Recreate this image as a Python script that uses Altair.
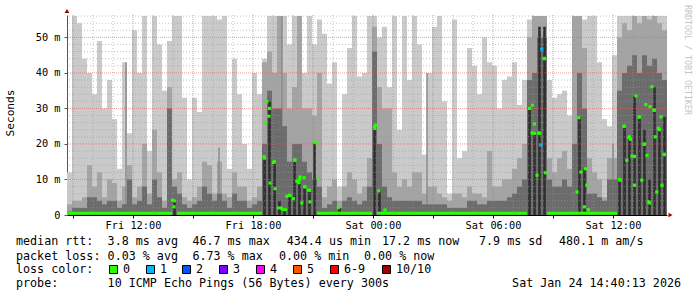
import altair as alt
import pandas as pd

# ---------------- data ----------------
START_H = 8.7      # Fri 08:42, hours since Fri 00:00
STEP_H = 0.25      # one column = 15 minutes
SPAN_H = 30.0
Y_TOP = 56.3       # ms

# outer smoke (lightest band top), ms
smoke_max = [12, 56, 54, 44, 40, 34, 49, 30, 38, 27, 13, 43, 23, 52, 40, 56, 18, 56, 48, 35,
             49, 56, 56, 33, 10, 33, 29, 56, 56, 56, 55, 56, 13, 44, 34, 20, 13, 40, 34, 44,
             56, 56, 56, 56, 48, 56, 56, 40, 56, 48, 55, 51, 37, 43, 8, 34, 47, 56, 39, 40,
             56, 56, 50, 53, 36, 56, 24, 56, 38, 56, 48, 17, 40, 53, 56, 32, 6, 55, 16, 18,
             47, 42, 34, 50, 43, 42, 30, 38, 39, 43, 31, 38, 55, 56, 56, 56, 38, 33, 34, 35,
             28, 56, 56, 55, 56, 56, 43, 27, 25, 45, 56, 56, 56, 56, 56, 56, 56, 56, 56, 56]
# second band top
smoke_mid = [3, 4, 4, 5, 14, 8, 12, 5, 10, 9, 4, 8, 14, 5, 8, 20, 6, 24, 12, 4,
             36, 10, 12, 5, 4, 5, 8, 15, 14, 6, 15, 6, 5, 12, 8, 8, 4, 5, 8, 43,
             46, 40, 56, 40, 30, 36, 56, 30, 30, 28, 40, 5, 8, 10, 4, 8, 12, 10, 6, 8,
             16, 53, 36, 30, 30, 12, 8, 10, 8, 12, 12, 6, 8, 8, 6, 5, 4, 6, 6, 5,
             8, 6, 6, 5, 18, 8, 8, 10, 10, 13, 16, 20, 50, 56, 56, 56, 16, 12, 16, 18,
             13, 56, 56, 47, 16, 12, 10, 5, 16, 16, 50, 54, 52, 56, 54, 56, 55, 56, 54, 52]
# third band top
smoke_dark = [1, 2, 2, 2, 5, 5, 4, 3, 4, 4, 2, 3, 10, 3, 4, 8, 3, 10, 5, 2,
              30, 8, 6, 3, 2, 3, 4, 8, 6, 4, 6, 4, 2, 6, 4, 4, 2, 3, 4, 20,
              35, 30, 30, 25, 15, 20, 20, 15, 12, 10, 8, 2, 3, 4, 2, 4, 5, 4, 3, 4,
              8, 46, 20, 8, 5, 4, 4, 4, 4, 4, 4, 3, 3, 3, 3, 3, 2, 2, 2, 2,
              4, 4, 3, 3, 4, 4, 4, 4, 5, 6, 8, 10, 38, 40, 50, 50, 10, 8, 8, 10,
              8, 20, 40, 30, 6, 6, 5, 4, 10, 10, 35, 40, 42, 45, 40, 45, 42, 44, 40, 38]
# innermost (near-black) band top
smoke_core = [0, 0, 0, 0, 0, 0, 0, 0, 0, 0, 0, 0, 0, 0, 0, 0, 0, 0, 0, 0,
              0, 4.5, 0, 0, 0, 0, 0, 0, 0, 0, 0, 0, 0, 0, 0, 0, 0, 0, 0, 16,
              32, 15, 4, 2, 6, 15.5, 10, 8, 7, 20.5, 0, 0, 0, 0, 2, 0, 0, 0, 0, 0,
              0, 25, 7, 0, 0, 0, 0, 0, 0, 0, 0, 0, 0, 0, 0, 0, 0, 0, 0, 0,
              0, 0, 0, 0, 0, 0, 0, 0, 0, 0, 0, 0, 30, 23, 53, 53, 0, 0, 0, 0,
              0, 0, 27.5, 13, 0, 0, 0, 0, 0, 0, 10, 25, 22, 33.5, 27.6, 24, 10, 36, 24, 27.6]
# median rtt per column, ms
median_rtt = [0.5, 0.5, 0.5, 0.5, 0.5, 0.5, 0.5, 0.5, 0.5, 0.5, 0.5, 0.5, 0.5, 0.5, 0.5, 0.5, 0.5, 0.5, 0.5, 0.5,
              0.5, 4, 0.5, 0.5, 0.5, 0.5, 0.5, 0.5, 0.5, 0.5, 0.5, 0.5, 0.5, 0.5, 0.5, 0.5, 0.5, 0.5, 0.5, 16,
              30, 15, 2, 1.5, 5.5, 15.5, 10, 8, 7, 20.5, 0.5, 0.5, 0.5, 0.5, 0.5, 0.5, 0.5, 0.5, 0.5, 0.5,
              0.5, 25, 0.5, 0.5, 0.5, 0.5, 0.5, 0.5, 0.5, 0.5, 0.5, 0.5, 0.5, 0.5, 0.5, 0.5, 0.5, 0.5, 0.5, 0.5,
              0.5, 0.5, 0.5, 0.5, 0.5, 0.5, 0.5, 0.5, 0.5, 0.5, 0.5, 0.5, 30, 23, 23, 44, 0.5, 0.5, 0.5, 0.5,
              0.5, 0.5, 0.5, 0.5, 0.5, 0.5, 0.5, 0.5, 0.5, 0.5, 10, 25, 22, 16.5, 27.6, 20, 3.4, 29.5, 24, 17]

# thin tall darker streaks (hour, top ms)
streak_h = [11.65, 16.3, 19.45, 26.7, 36.0]
streak_v = [43, 19, 56, 40, 20]

# individual median readings inside the busy columns (hour, ms, loss index)
extra_h = [13.97, 14.05, 18.55, 18.64, 18.69, 18.79, 18.85, 19.02, 19.1, 19.44, 19.69, 19.85, 20.02,
           20.1, 20.19, 20.3, 20.35, 20.44, 20.55, 20.6, 20.77, 20.85, 21.19, 21.27, 22.27,
           24.09, 24.14, 24.29, 24.6,
           31.95, 31.97, 32.07, 32.2, 32.29, 32.39, 32.44, 32.55, 32.62,
           34.2, 34.29, 34.4, 34.57, 34.62, 34.69, 34.77,
           36.37, 36.54, 36.69, 36.79, 36.87, 36.95, 37.07, 37.15, 37.3, 37.44, 37.55, 37.64, 37.7,
           37.79, 37.85, 37.94, 38.05, 38.11, 38.19, 38.27, 38.4, 38.45, 38.55]
extra_v = [4.2, 2.3, 16.4, 26, 31.9, 27.8, 9, 14.8, 7.4, 1.8, 5.3, 5.6, 4.6,
           15.4, 9.5, 9.1, 10.7, 3.4, 10.5, 7.9, 7, 3.7, 20.3, 10.3, 2.1,
           24.4, 25.3, 6.8, 1.4,
           23.1, 30.9, 25.6, 11.2, 23.1, 19.7, 46.7, 44.1, 11.9,
           6.5, 27.4, 12.1, 2.3, 13, 8.4, 1.5,
           9.8, 25, 15.4, 21.8, 21.3, 16.6, 8.4, 33.5, 27.6, 9.8, 19.9, 31.1, 16.8,
           3.7, 30.5, 36.1, 29.5, 22, 6.5, 24.4, 27.6, 8.4, 17.1]
extra_loss = [0, 0, 0, 0, 0, 0, 0, 0, 0, 0, 0, 0, 0,
              0, 0, 0, 0, 0, 0, 0, 0, 0, 0, 0, 0,
              0, 0, 0, 0,
              0, 0, 0, 0, 0, 1, 1, 0, 0,
              0, 0, 0, 0, 0, 0, 0,
              0, 0, 0, 0, 0, 0, 0, 0, 0, 0, 0, 0, 0,
              0, 0, 0, 0, 0, 0, 0, 0, 0, 0]

loss_labels = ["0", "1", "2", "3", "4", "5", "6-9", "10/10"]
loss_colors = ["#26ff00", "#00b8ff", "#0059ff", "#7e00ff", "#ff00ff", "#ff5500", "#ff0000", "#a10000"]

x_label_hours = [12, 18, 24, 30, 36]
x_label_text = ["Fri 12:00", "Fri 18:00", "Sat 00:00", "Sat 06:00", "Sat 12:00"]
x_major_hours = [9, 12, 15, 18, 21, 24, 27, 30, 33, 36]
x_minor_hours = [10, 11, 13, 14, 16, 17, 19, 20, 22, 23, 25, 26, 28, 29, 31, 32, 34, 35, 37, 38]
y_major = [10, 20, 30, 40, 50]
y_minor = [2, 4, 6, 8, 12, 14, 16, 18, 22, 24, 26, 28, 32, 34, 36, 38, 42, 44, 46, 48, 52, 54, 56]
y_label_values = [0, 10, 20, 30, 40, 50]

stat_line1 = ["median rtt:", "3.8 ms avg", "46.7 ms max", "434.4 us min", "17.2 ms now", "7.9 ms sd", "480.1 m am/s"]
stat_line2 = ["packet loss:", "0.03 % avg", "6.73 % max", "0.00 % min", "0.00 % now"]
legend_head = "loss color:"
probe_head = "probe:"
probe_text = "10 ICMP Echo Pings (56 Bytes) every 300s"
stamp_text = "Sat Jan 24 14:40:13 2026"
y_title = "Seconds"
watermark = "RRDTOOL / TOBI OETIKER"

# ---------------- layout ----------------
W, H = 600, 200
PL, PT = 67, 15
FONT = "DejaVu Sans Mono"

n = len(smoke_max)
t0 = [START_H + STEP_H * i for i in range(n)]
bins = pd.DataFrame({"t0": t0, "mx": smoke_max, "mid": smoke_mid,
                     "dark": smoke_dark, "core": smoke_core, "med": median_rtt})
bins["t1"] = bins["t0"] + STEP_H
bins["tc"] = bins["t0"] + STEP_H / 2

extras = pd.DataFrame({"h": extra_h, "v": extra_v,
                       "c": [loss_colors[i] for i in extra_loss]})
streaks = pd.DataFrame({"h": streak_h, "v": streak_v})

xs = alt.Scale(domain=[START_H, START_H + SPAN_H], nice=False, zero=False)
ys = alt.Scale(domain=[0, Y_TOP], nice=False, zero=True, clamp=True)

x_expr = " : ".join(f"datum.value == {h} ? '{s}'" for h, s in zip(x_label_hours, x_label_text)) + " : ''"
XAX = alt.Axis(values=x_major_hours, labelExpr=x_expr, title="", grid=False,
               domainColor="#000000", tickColor="#000000", tickSize=3,
               labelFont=FONT, labelFontSize=10.3, labelColor="#000000",
               labelPadding=2, labelAngle=0, labelOverlap=False, labelFlush=False)
YAX = alt.Axis(values=y_label_values,
               labelExpr="datum.value == 0 ? '0' : datum.value + ' m'",
               title="", grid=False, domainColor="#555555", tickColor="#555555", tickSize=3,
               labelFont=FONT, labelFontSize=10.3, labelColor="#000000", labelPadding=4)


def X(f):
    return alt.X(f"{f}:Q", scale=xs, axis=XAX)


def Y(f):
    return alt.Y(f"{f}:Q", scale=ys, axis=YAX)


base = alt.Chart(bins)


def band(field, color):
    return base.mark_rect(color=color).encode(x=X("t0"), x2="t1:Q", y=Y(field), y2=alt.datum(0))


layer_max = band("mx", "#cacaca")
layer_mid = band("mid", "#a4a4a4")
layer_dark = band("dark", "#6c6c6c")
layer_streak = alt.Chart(streaks).mark_rule(color="#8a8a8a", strokeWidth=1.5).encode(
    x=X("h"), y=Y("v"), y2=alt.datum(0))
layer_core = base.transform_filter("datum.core > 0").transform_calculate(
    a="datum.t0 + 0.06", b="datum.t1 - 0.06").mark_rect(color="#2e2e2e").encode(
    x=X("a"), x2="b:Q", y=Y("core"), y2=alt.datum(0))


def vgrid(vals, color, dash, op):
    return alt.Chart(pd.DataFrame({"h": vals})).mark_rule(
        color=color, strokeDash=dash, strokeWidth=1, opacity=op).encode(x=X("h"))


def hgrid(vals, color, dash, op):
    return alt.Chart(pd.DataFrame({"v": vals})).mark_rule(
        color=color, strokeDash=dash, strokeWidth=1, opacity=op).encode(y=Y("v"))


grid = [vgrid(x_minor_hours, "#9a9a9a", [1, 2], 0.6), hgrid(y_minor, "#9a9a9a", [1, 2], 0.6),
        vgrid(x_major_hours, "#e06060", [1, 1], 0.6), hgrid(y_major, "#e06060", [1, 1], 0.6)]

med_low = base.transform_filter("datum.med <= 2").transform_calculate(
    lo="datum.med - 0.42", hi="datum.med + 0.42").mark_rect(color=loss_colors[0]).encode(
    x=X("t0"), x2="t1:Q", y=Y("lo"), y2="hi:Q")
med_high = base.transform_filter("datum.med > 2").mark_square(
    color=loss_colors[0], size=10, opacity=1).encode(x=X("tc"), y=Y("med"))
med_extra = alt.Chart(extras).mark_square(size=10, opacity=1).encode(
    x=X("h"), y=Y("v"), color=alt.Color("c:N", scale=None, legend=None))


def txt(s, x, y, size=11.7, align="left", color="#000000", angle=0):
    return alt.Chart(alt.Data(values=[{}])).mark_text(
        align=align, baseline="middle", font=FONT, fontSize=size, color=color, angle=angle).encode(
        x=alt.value(x - PL), y=alt.value(y - PT), text=alt.value(s))


texts = []
for s, x in zip(stat_line1, [16, 107.6, 192.4, 286.7, 382, 479, 559]):
    texts.append(txt(s, x, 241))
for s, x in zip(stat_line2, [16, 107.6, 192.4, 279, 364]):
    texts.append(txt(s, x, 255.5))
texts.append(txt(legend_head, 16, 269))
box_x = [109, 146, 182, 219, 256, 293, 330, 382]
for lab, col, bx in zip(loss_labels, loss_colors, box_x):
    texts.append(alt.Chart(alt.Data(values=[{}])).mark_rect(
        color=col, stroke="#000000", strokeWidth=1).encode(
        x=alt.value(bx - PL + 0.5), x2=alt.value(bx - PL + 8.5),
        y=alt.value(265 - PT + 0.5), y2=alt.value(273 - PT + 0.5)))
    texts.append(txt(lab, bx + 14, 269))
texts.append(txt(probe_head, 16, 283.3))
texts.append(txt(probe_text, 107.6, 283.3))
texts.append(txt(stamp_text, 681, 283.3, align="right"))
texts.append(txt(y_title, 11, 113, size=11.2, align="center", angle=270))
texts.append(txt(watermark, 687, 60, size=8.3, align="center", color="#c4c4c4", angle=90))

arrows = [
    alt.Chart(alt.Data(values=[{}])).mark_point(shape="triangle-up", filled=True, color="#a00000",
                                                size=22, opacity=1).encode(
        x=alt.value(0), y=alt.value(-4)),
    alt.Chart(alt.Data(values=[{}])).mark_point(shape="triangle-right", filled=True, color="#a00000",
                                                size=22, opacity=1).encode(
        x=alt.value(603.5), y=alt.value(H)),
]

chart = alt.layer(
    layer_max, layer_mid, layer_streak, layer_dark, layer_core, *grid,
    med_low, med_high, med_extra, *texts, *arrows
).properties(
    width=W, height=H,
    autosize=alt.AutoSizeParams(type="none"),
    padding={"left": PL, "top": PT, "right": 697 - PL - W, "bottom": 297 - PT - H},
    background="#ffffff",
).configure_view(strokeWidth=0)

chart.save("out.html", embed_options={"renderer": "svg", "actions": False})
